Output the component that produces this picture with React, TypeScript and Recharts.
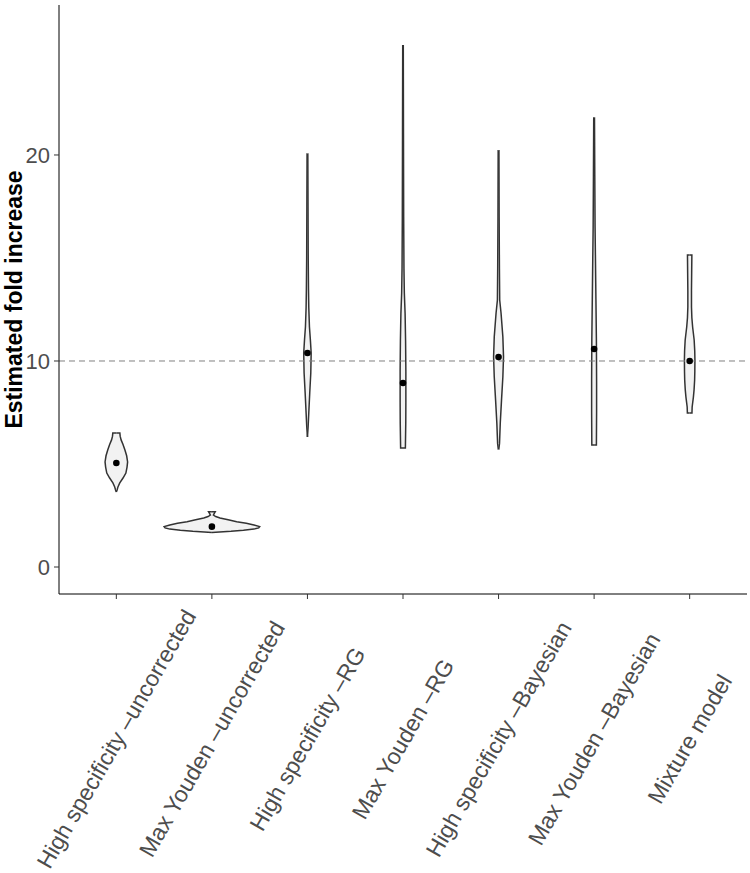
import React from 'react';
import { ComposedChart, Area, XAxis, YAxis, ReferenceLine, ReferenceDot } from 'recharts';

const categories = [
  'High specificity \u2013uncorrected',
  'Max Youden \u2013uncorrected',
  'High specificity \u2013RG',
  'Max Youden \u2013RG',
  'High specificity \u2013Bayesian',
  'Max Youden \u2013Bayesian',
  'Mixture model',
];

const medians = [5.05, 1.96, 10.39, 8.93, 10.19, 10.58, 10.0];

const yTicks = [0, 10, 20];

// density outlines: [estimated fold increase, half width in category units]
const densityHSUncorrected: [number, number][] = [
  [6.5, 0], [6.5, 0.037], [6.35, 0.04], [6.17, 0.05], [5.95, 0.07], [5.68, 0.09], [5.4, 0.108],
  [5.1, 0.118], [4.85, 0.112], [4.56, 0.1], [4.32, 0.07], [4.08, 0.036], [3.9, 0.018], [3.74, 0.008], [3.64, 0],
];
const densityMYUncorrected: [number, number][] = [
  [2.68, 0], [2.68, 0.035], [2.6, 0.025], [2.52, 0.016], [2.45, 0.04], [2.38, 0.085], [2.29, 0.17],
  [2.2, 0.26], [2.12, 0.36], [2.04, 0.44], [1.96, 0.5], [1.9, 0.49], [1.84, 0.44], [1.78, 0.33],
  [1.73, 0.2], [1.7, 0.08], [1.68, 0],
];
const densityHSRG: [number, number][] = [
  [20.05, 0], [20.05, 0.004], [17.5, 0.006], [15, 0.008], [13.5, 0.011], [12.6, 0.014], [11.65, 0.021],
  [11.0, 0.031], [10.39, 0.039], [9.42, 0.035], [8.45, 0.024], [7.48, 0.014], [6.8, 0.007], [6.31, 0],
];
const densityMYRG: [number, number][] = [
  [25.3, 0], [25.3, 0.003], [21, 0.005], [17, 0.007], [14.5, 0.01], [13.3, 0.014], [12.3, 0.022],
  [11, 0.027], [9.5, 0.03], [8, 0.03], [7, 0.029], [5.78, 0.025], [5.78, 0],
];
const densityHSBayesian: [number, number][] = [
  [20.2, 0], [20.2, 0.004], [17, 0.006], [14.5, 0.009], [12.96, 0.012], [12.33, 0.026], [11.17, 0.045],
  [10.2, 0.052], [9.22, 0.045], [8.1, 0.031], [6.99, 0.018], [6.0, 0.01], [5.73, 0.003], [5.73, 0],
];
const densityMYBayesian: [number, number][] = [
  [21.8, 0], [21.8, 0.004], [19, 0.007], [16.5, 0.01], [15, 0.014], [13, 0.019], [11, 0.024],
  [9, 0.026], [7.5, 0.026], [5.92, 0.024], [5.92, 0],
];
const densityMixture: [number, number][] = [
  [15.15, 0], [15.15, 0.023], [14.27, 0.021], [13.4, 0.019], [12.62, 0.019], [12.1, 0.023], [11.65, 0.031],
  [11.02, 0.047], [10.5, 0.053], [10.05, 0.055], [9.5, 0.054], [9.08, 0.052], [8.6, 0.046], [8.25, 0.039],
  [7.77, 0.026], [7.48, 0.024], [7.48, 0],
];

const densities = [
  densityHSUncorrected,
  densityMYUncorrected,
  densityHSRG,
  densityMYRG,
  densityHSBayesian,
  densityMYBayesian,
  densityMixture,
];

const violinRows = densities.map((d, i) =>
  d.map(([y, w]) => ({ y, range: [i + 1 - w, i + 1 + w] }))
);

const FONT = '"Liberation Sans", Arial, Helvetica, sans-serif';

const XTick = (props: any) => {
  const { x, y, payload } = props;
  const label = categories[Math.round(payload.value) - 1] ?? '';
  const cy = y + 138;
  return (
    <text
      x={x}
      y={cy}
      transform={`rotate(-60 ${x} ${cy})`}
      textAnchor="middle"
      dominantBaseline="central"
      fontSize={23}
      fill="#4d4d4d"
      fontFamily={FONT}
    >
      {label}
    </text>
  );
};

export default function App() {
  return (
    <div style={{ position: 'absolute', left: 0, top: 0, width: 750, height: 873, background: '#fff' }}>
      <ComposedChart
        width={750}
        height={873}
        layout="vertical"
        margin={{ top: 5, right: 3, left: 0, bottom: 0 }}
        style={{ fontFamily: FONT }}
      >
        <XAxis
          type="number"
          domain={[0.4, 7.6]}
          allowDataOverflow
          ticks={[1, 2, 3, 4, 5, 6, 7]}
          height={279}
          axisLine={{ stroke: '#000', strokeWidth: 1 }}
          tickLine={{ stroke: '#333' }}
          tickSize={5}
          tick={<XTick />}
          interval={0}
        />
        <YAxis
          type="number"
          dataKey="y"
          reversed
          domain={[-1.31, 27.28]}
          allowDataOverflow
          ticks={yTicks}
          width={59}
          axisLine={{ stroke: '#000', strokeWidth: 1 }}
          tickLine={{ stroke: '#333' }}
          tickSize={5}
          tickMargin={4}
          tick={{ fill: '#4d4d4d', fontSize: 22, fontFamily: FONT }}
          label={{
            value: 'Estimated fold increase',
            angle: -90,
            position: 'center',
            dx: -16,
            fill: '#000',
            fontSize: 23,
            fontWeight: 'bold',
            fontFamily: FONT,
          }}
        />
        <ReferenceLine y={10} stroke="#808080" strokeDasharray="6 4" strokeWidth={1} />
        {violinRows.map((rows, i) => (
          <Area
            key={i}
            data={rows}
            dataKey="range"
            type="linear"
            stroke="#333333"
            strokeWidth={1.5}
            fill="#f2f2f2"
            fillOpacity={1}
            dot={false}
            activeDot={false}
            isAnimationActive={false}
          />
        ))}
        {medians.map((m, i) => (
          <ReferenceDot key={i} x={i + 1} y={m} r={3.3} fill="#000" stroke="none" />
        ))}
      </ComposedChart>
    </div>
  );
}
